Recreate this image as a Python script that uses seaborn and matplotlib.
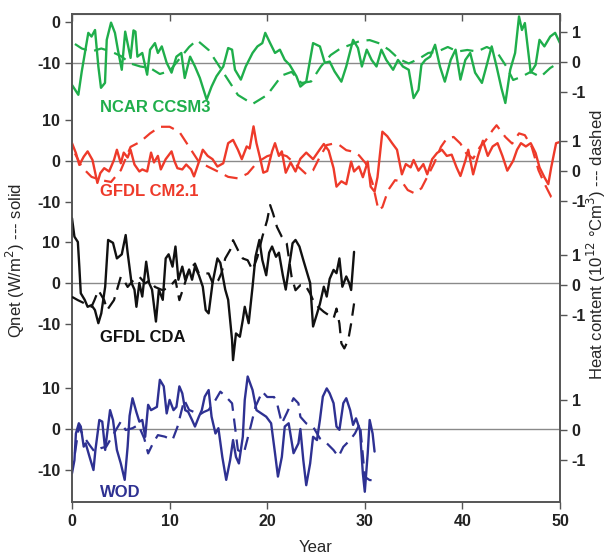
import numpy as np
import pandas as pd
import matplotlib
matplotlib.use("Agg")
import matplotlib.pyplot as plt
import seaborn as sns

# ---- data: solid = Qnet (W/m2), dashed = heat content (1e12 Cm3)
ncar_q_yr = [0, 0.65, 1.0, 1.67, 2.0, 2.36, 2.7, 2.97, 3.38, 3.56, 4.0, 4.4, 4.7, 5.1, 5.45, 6.0, 6.3, 6.5, 6.7,
             7.2, 7.7, 8.0, 8.5, 8.8, 9.2, 9.7, 10.2, 10.7, 11.2, 11.55, 12.1, 12.6, 13.1, 13.8, 14.3, 14.8, 15.5,
             16.0, 16.4, 16.7, 17.3, 17.8, 18.5, 19.0, 19.5, 19.8, 20.3, 20.8, 21.3, 21.8, 22.3, 23.0, 23.4, 24.0,
             24.7, 25.4, 25.9, 26.4, 26.9, 27.6, 28.1, 28.8, 29.3, 29.7, 30.2, 30.7, 31.2, 31.7, 32.2, 32.9, 33.4,
             33.9, 34.5, 35.0, 35.5, 35.8, 36.2, 36.7, 37.2, 37.7, 38.2, 38.8, 39.3, 39.8, 40.3, 40.8, 41.3, 42.0,
             42.5, 43.0, 43.5, 44.0, 44.4, 44.9, 45.4, 45.8, 46.1, 46.4, 47.0, 47.5, 47.9, 48.4, 49.0, 49.5, 50.0]
ncar_q = [-15.4, -17.8, -12.1, -2.7, -3.6, -2.0, -10.9, -16.1, -14.9, -4.4, -0.2, -2.7, -6.8, -11.7, -2.4, -8.8,
          -2.1, -2.4, -8.5, -7.6, -12.9, -6.8, -5.2, -7.6, -6.0, -10.0, -12.4, -8.5, -7.6, -13.7, -8.5, -10.9,
          -13.7, -19.0, -15.8, -13.3, -10.9, -6.4, -6.8, -11.7, -14.1, -10.9, -7.6, -6.0, -5.2, -2.7, -5.2, -7.6,
          -6.8, -9.3, -10.5, -13.3, -15.8, -14.6, -5.2, -6.0, -10.0, -9.7, -12.1, -14.6, -10.9, -4.4, -6.4, -10.9,
          -6.8, -9.3, -10.9, -6.8, -9.3, -11.7, -9.3, -10.9, -11.7, -18.6, -16.6, -10.5, -9.3, -8.5, -5.6, -10.9,
          -14.6, -9.3, -6.8, -14.1, -9.3, -7.6, -12.4, -14.9, -10.5, -6.0, -10.9, -16.2, -19.8, -11.7, -7.6, 1.3,
          -2.0, -0.3, -12.4, -10.5, -4.4, -6.0, -3.6, -2.7, -5.2]
ncar_h_yr = [0.3, 1, 2, 3, 4, 5, 6, 7, 8, 9, 10, 11, 12, 12.8, 14, 15.5, 17, 18.5, 20, 21.5, 22.5, 23.5, 24.5, 25.5,
             26.5, 27.5, 28.5, 29.5, 30.5, 31.5, 32.5, 33.5, 34.5, 35.5, 36.5, 37.5, 38.5, 39.5, 40.5, 41.5, 42.5,
             43.5, 44.5, 45.2, 46, 47, 48, 49, 50]
ncar_h = [0.6, 0.45, 0.35, 0.45, 0.35, 0.2, -0.05, -0.15, -0.2, -0.4, -0.3, 0.1, 0.5, 0.73, 0.4, -0.35, -1.1, -1.4,
          -1.1, -0.45, -0.33, -0.7, -0.65, -0.15, 0.23, 0.45, 0.57, 0.7, 0.73, 0.62, 0.4, 0.1, -0.05, 0.1, 0.3, 0.35,
          0.5, 0.35, 0.4, 0.35, 0.5, 0.35, -0.15, -0.6, -0.5, -0.33, -0.5, -0.2, 0.0]

cm21_q_yr = [0, 0.4, 0.75, 1.2, 1.6, 2.1, 2.6, 2.9, 3.3, 3.8, 4.3, 4.6, 5.0, 5.3, 5.7, 6.0, 6.4, 6.9, 7.2, 7.7, 8.1,
             8.4, 8.8, 9.1, 9.6, 10.2, 10.5, 10.8, 11.3, 11.7, 12.2, 12.5, 13.1, 13.4, 13.9, 14.4, 14.9, 15.5, 16.0,
             16.5, 17.0, 17.4, 17.9, 18.2, 18.6, 18.9, 19.3, 19.6, 20.0, 20.5, 20.8, 21.2, 21.5, 21.9, 22.4, 22.9,
             23.4, 24.0, 24.7, 25.4, 25.8, 26.3, 26.8, 27.1, 27.6, 28.1, 28.6, 28.9, 29.4, 29.8, 30.3, 30.6, 31.0,
             31.3, 31.8, 32.3, 32.8, 33.3, 33.8, 34.2, 34.7, 35.0, 35.5, 36.0, 36.4, 36.9, 37.4, 37.9, 38.4, 38.9,
             39.4, 39.8, 40.3, 40.6, 41.1, 41.6, 42.1, 42.6, 43.1, 43.6, 44.1, 44.6, 45.2, 45.6, 46.0, 46.5, 47.0,
             47.5, 47.9, 48.4, 48.8, 49.1, 49.6, 50.0]
cm21_q = [4.3, 1.9, -1.0, 1.0, 2.3, 0.2, -5.4, -3.0, -1.8, -2.6, 0.2, 2.7, -0.6, 2.0, 0.8, 2.7, -0.9, -2.6, -2.1,
          -2.6, 2.0, -0.4, 1.2, -2.1, 0.4, 2.3, -0.1, -1.8, -2.1, -0.9, -2.1, -3.8, 0.4, 2.7, 1.2, 0.4, -1.4, -0.6,
          4.3, 5.1, 2.7, 0.4, 3.5, 3.0, 8.4, 4.3, 0.4, -2.9, -2.5, 2.3, 4.3, 1.2, 2.3, -2.9, -0.4, -2.6, 0.5, 2.0,
          0.4, 2.8, 4.1, 2.5, -1.8, -6.3, -5.0, -5.7, -0.2, -2.6, -1.4, -4.0, -0.2, -6.3, -7.5, -4.0, 7.1, 6.0, 4.3,
          2.7, -3.3, -0.8, -1.6, 0.2, -2.4, -0.8, -3.3, 0.4, 1.9, 2.7, 1.2, 1.5, -1.6, -3.7, 0.0, 2.7, -3.3, 1.2,
          4.9, 1.2, 3.5, 4.3, 1.2, -2.4, 0.0, 2.7, 4.3, 3.5, 4.3, 1.9, -1.6, -4.0, -5.7, -1.6, 4.3, 4.6]
cm21_h_yr = [0.3, 1, 2, 3, 4, 5, 6, 7, 8, 9, 10, 11, 12, 13, 14, 15, 16, 17, 18, 19, 20, 21, 22, 23, 24, 24.7, 25.4,
             26.1, 26.8, 27.4, 28.1, 28.8, 29.4, 30.1, 30.8, 31.4, 31.8, 32.4, 33.1, 33.8, 34.4, 35.1, 35.8, 36.4,
             37.1, 37.8, 38.4, 39.1, 39.8, 40.4, 41.1, 41.8, 42.4, 43.1, 43.5, 44.4, 45.1, 45.8, 46.4, 47.1, 47.8,
             48.4, 49.1, 49.6]
cm21_h = [0.59, 0.14, -0.19, -0.3, -0.36, 0.03, 0.81, 0.98, 1.26, 1.48, 1.48, 1.31, 0.81, 0.31, 0.14, -0.02, -0.19,
          -0.24, -0.08, 0.3, 0.5, 0.6, 0.5, 0.2, -0.1, 0.03, 0.48, 0.87, 0.92, 0.87, 0.7, 0.65, 0.53, 0.26, -0.41,
          -1.3, -1.2, -0.63, -0.3, -0.35, -0.63, -0.74, -0.57, -0.19, 0.26, 0.81, 1.09, 1.14, 0.92, 0.59, 0.42, 0.81,
          1.03, 1.37, 1.53, 1.14, 0.92, 1.26, 1.2, 0.81, 0.03, -0.41, -0.86, -0.95]

cda_q_yr = [0, 0.25, 0.6, 0.75, 0.9, 1.3, 1.6, 2.0, 2.35, 2.7, 3.0, 3.4, 3.7, 4.2, 4.6, 5.1, 5.5, 5.7, 6.1, 6.4, 6.6,
            6.9, 7.2, 7.6, 7.9, 8.2, 8.6, 8.9, 9.3, 9.6, 9.9, 10.3, 10.6, 10.9, 11.3, 11.6, 12.0, 12.3, 12.6, 13.0,
            13.4, 13.7, 14.0, 14.4, 14.9, 15.2, 15.7, 16.0, 16.4, 16.5, 16.8, 17.2, 17.5, 17.7, 18.1, 18.5, 18.8,
            19.2, 19.5, 19.9, 20.2, 20.5, 20.9, 21.2, 21.6, 21.9, 22.2, 22.6, 22.9, 23.3, 23.7, 24.0, 24.4, 24.7,
            25.1, 25.4, 25.8, 26.1, 26.4, 26.8, 27.1, 27.4, 27.7, 28.1, 28.4, 28.6, 28.9]
cda_q = [15.8, 11.3, 10.0, 4.0, -2.5, -4.1, -5.8, -5.4, -6.6, -9.8, -7.4, -0.9, 10.5, 9.8, 6.0, 7.0, 11.7, 7.4, 0.0,
         -1.6, -5.8, 0.0, -3.3, 5.2, 0.0, -1.6, -9.4, -1.6, -4.1, 6.0, 7.0, 4.0, 8.9, 0.8, 4.0, 0.8, 3.3, 0.8, 4.0,
         1.9, -0.9, -6.6, -7.4, 0.0, 6.0, 4.9, -1.6, -4.1, -13.9, -18.8, -12.3, -13.1, -9.0, -5.8, -9.8, -0.9, 6.4,
         10.5, 5.6, 1.9, 7.4, 8.9, 6.4, 7.4, 1.9, -1.6, 3.3, 9.7, 10.5, 8.9, 5.6, 3.2, 0.0, -10.6, -7.5, -5.1, -0.9,
         -3.3, 1.0, 3.2, 2.4, 6.0, -0.9, 1.6, 0.0, -1.7, 7.6]
cda_h_yr = [0, 0.6, 1.3, 2.0, 2.3, 2.7, 3.3, 3.6, 4.3, 5.0, 5.3, 5.7, 6.3, 6.9, 7.5, 8.0, 8.5, 9.3, 10.0, 10.6, 11.0,
            11.5, 12.0, 12.6, 13.0, 14.0, 14.5, 15.0, 15.3, 15.7, 16.2, 16.5, 17.0, 17.5, 18.0, 18.5, 19.0, 19.5,
            20.0, 20.3, 20.6, 21.0, 21.5, 22.0, 22.5, 22.9, 23.4, 23.9, 24.4, 24.7, 25.2, 25.8, 26.3, 26.8, 27.1,
            27.4, 27.6, 27.9, 28.3, 28.6, 28.9]
cda_h = [-0.39, -0.5, -0.61, -0.72, -0.5, -0.17, -0.5, -0.83, -0.5, 0.28, 0.17, -0.06, 0.17, 0.28, 0.06, 0.17,
         -0.06, -0.17, -0.06, 0.17, -0.5, 0.0, 0.5, 0.72, 0.39, 0.39, 0.0, 0.17, 0.39, 0.89, 1.17, 1.5, 1.17, 0.89,
         0.83, 0.5, 0.94, 1.61, 2.17, 2.67, 2.39, 1.94, 1.61, 1.39, 0.28, -0.17, 0.0, 0.0, -0.28, -0.5, -0.72, -0.89,
         -1.0, -1.11, -0.78, -1.28, -1.94, -2.11, -1.83, -1.28, -0.61]

wod_q_yr = [0, 0.25, 0.4, 0.7, 0.9, 1.2, 1.4, 1.8, 2.2, 2.4, 2.8, 3.1, 3.4, 3.6, 3.9, 4.2, 4.6, 5.0, 5.4, 5.7, 5.9,
            6.2, 6.6, 6.9, 7.2, 7.5, 7.8, 8.1, 8.7, 9.0, 9.4, 9.7, 10.0, 10.4, 10.7, 11.0, 11.3, 11.6, 11.9, 12.3,
            12.6, 13.0, 13.3, 13.6, 14.0, 14.3, 14.7, 15.0, 15.4, 15.8, 16.2, 16.5, 16.8, 17.1, 17.5, 17.7, 18.0,
            18.5, 18.9, 19.4, 19.9, 20.4, 20.8, 21.1, 21.5, 21.8, 22.2, 22.7, 23.2, 23.4, 23.7, 24.0, 24.4, 24.7,
            25.1, 25.4, 25.7, 26.1, 26.4, 26.8, 27.1, 27.4, 27.8, 28.1, 28.5, 28.8, 29.1, 29.5, 29.8, 30.0, 30.3,
            30.5, 30.8, 31.0]
wod_q = [-10.8, -7.6, -1.1, 1.4, 0.6, -4.3, -3.5, -6.8, -10.0, -5.1, 2.2, 1.8, -5.1, -1.1, 4.6, 2.2, -5.1, -8.4,
         -12.4, -4.3, 3.2, 7.5, 4.1, 1.8, 2.2, -1.9, 5.9, 4.6, 5.4, 12.0, 10.4, 3.8, 7.1, 4.6, 5.4, 10.4, 8.7, 4.6,
         4.2, 2.2, 0.6, 3.0, 4.6, 7.9, 9.5, 3.0, -1.1, 0.2, -6.8, -12.4, -7.6, -2.7, -6.8, -8.4, -1.9, 7.1, 12.8, 9.5,
         4.6, 3.8, 3.0, 1.4, -5.9, -11.6, -6.8, 0.6, 1.4, -5.9, -3.5, 0.0, -7.6, -13.7, -8.4, -1.9, -2.7, 2.2, 7.9,
         9.9, 8.7, 6.3, 0.6, -0.2, 6.3, 7.5, 4.6, 1.0, 2.6, -0.2, -10.8, -15.3, -5.9, 2.2, -1.1, -5.5]
wod_h_yr = [0.3, 0.7, 1.2, 1.8, 2.3, 3.0, 3.5, 4.0, 4.5, 5.0, 5.5, 6.2, 6.8, 7.4, 7.8, 8.3, 8.8, 9.5, 10.3, 10.8,
            11.5, 12.0, 12.5, 13.0, 13.5, 14.0, 14.7, 15.2, 15.8, 16.4, 17.0, 17.6, 18.3, 18.8, 19.5, 20.0, 20.7,
            21.0, 21.5, 22.0, 22.7, 23.2, 23.4, 24.0, 24.7, 25.4, 26.1, 26.8, 27.3, 27.8, 28.5, 29.0, 29.5, 30.0,
            30.5, 31.0]
wod_h = [-0.78, 0.11, -0.22, -0.5, -0.72, -0.6, -0.56, -0.28, 0.0, 0.28, 0.0, 0.06, 0.17, -0.28, -0.78, -0.44,
         -0.17, -0.22, -0.33, 0.1, 1.0, 0.67, 0.6, 0.5, 0.6, 0.67, 1.0, 1.28, 1.1, 0.89, -0.67, -0.78, 0.11, 0.78,
         1.28, 1.1, 1.1, 0.9, 0.22, 0.56, 1.06, 0.89, 0.44, 0.22, 0.11, -0.28, -0.44, -0.67, -0.89, -0.56, -0.33,
         -0.11, 0.22, -1.56, -1.67, -1.67]

names = ["NCAR CCSM3", "GFDL CM2.1", "GFDL CDA", "WOD"]
colors = ["#1fae4b", "#ee3a2a", "#111111", "#2e3192"]
qnet = [(ncar_q_yr, ncar_q), (cm21_q_yr, cm21_q), (cda_q_yr, cda_q), (wod_q_yr, wod_q)]
heat = [(ncar_h_yr, ncar_h), (cm21_h_yr, cm21_h), (cda_h_yr, cda_h), (wod_h_yr, wod_h)]

# vertical stacking of the panels (left axis in W/m2, right axis in heat units)
left_off = [99.3, 65.4, 35.6, 0.0]
right_off = [12.27, 8.63, 4.83, 0.0]
left_ticks = [[0, -10], [10, 0, -10], [10, 0, -10], [10, 0, -10]]
ref_line = [-10, 0, 0, 0]
label_pos = [78.3, 57.8, 22.2, -15.4]

sns.set_style("ticks")
plt.rcParams["font.family"] = ["Liberation Sans", "DejaVu Sans"]

fig = plt.figure(figsize=(6.09, 5.56), dpi=100)
ax = fig.add_axes([72 / 609, 54 / 556, 488 / 609, 488 / 556])
ax2 = ax.twinx()

for i, name in enumerate(names):
    yq, vq = qnet[i]
    yh, vh = heat[i]
    dq = pd.DataFrame({"Year": yq, "y": np.array(vq) + left_off[i]})
    dh = pd.DataFrame({"Year": yh, "y": np.array(vh) + right_off[i]})
    ax.axhline(ref_line[i] + left_off[i], color="#8a8a8a", lw=1.0, zorder=1)
    sns.lineplot(data=dq, x="Year", y="y", ax=ax, color=colors[i], lw=1.7, estimator=None, zorder=3)
    sns.lineplot(data=dh, x="Year", y="y", ax=ax2, color=colors[i], lw=1.6, estimator=None,
                 zorder=3).lines[-1].set_dashes([6, 3.5])
    ax.text(2.9, label_pos[i], name, color=colors[i], fontsize=12, fontweight="bold", va="center", ha="left")

ax.set_xlim(0, 50)
ax.set_ylim(-17.8, 101.2)
ax2.set_ylim(-2.4, 13.87)

lt, ll = [], []
for i in range(4):
    for t in left_ticks[i]:
        lt.append(t + left_off[i])
        ll.append(str(t))
ax.set_yticks(lt)
ax.set_yticklabels(ll)
rt, rl = [], []
for i in range(4):
    for t in [1, 0, -1]:
        rt.append(t + right_off[i])
        rl.append(str(t))
ax2.set_yticks(rt)
ax2.set_yticklabels(rl)

ax.set_xticks([0, 10, 20, 30, 40, 50])
top = ax.secondary_xaxis("top")
top.set_xticks([0, 10, 20, 30, 40, 50])
top.tick_params(direction="in", labeltop=False, length=5, width=1, color="#555555")
top.spines["top"].set_color("#555555")

for a in (ax, ax2):
    for s in a.spines.values():
        s.set_color("#555555")
        s.set_linewidth(1.2)
ax.tick_params(axis="both", direction="out", length=5, width=1, color="#555555", labelsize=11.5,
               labelcolor="#222222")
ax2.tick_params(axis="y", direction="out", length=5, width=1, color="#555555", labelsize=11.5,
                labelcolor="#222222")
for lab in ax.get_yticklabels() + ax2.get_yticklabels() + ax.get_xticklabels():
    lab.set_fontweight("bold")

ax.set_xlabel("Year", fontsize=12, labelpad=8)
ax.set_ylabel("Qnet (W/m$^2$) --- solid", fontsize=12, va="center")
ax.yaxis.set_label_coords(-0.115, 0.495)
ax2.set_ylabel("Heat content (10$^{12}$ °Cm$^3$) --- dashed", fontsize=12, va="center", ha="center")
ax2.yaxis.set_label_coords(1.075, 0.527)

fig.savefig("out.png", dpi=100)
